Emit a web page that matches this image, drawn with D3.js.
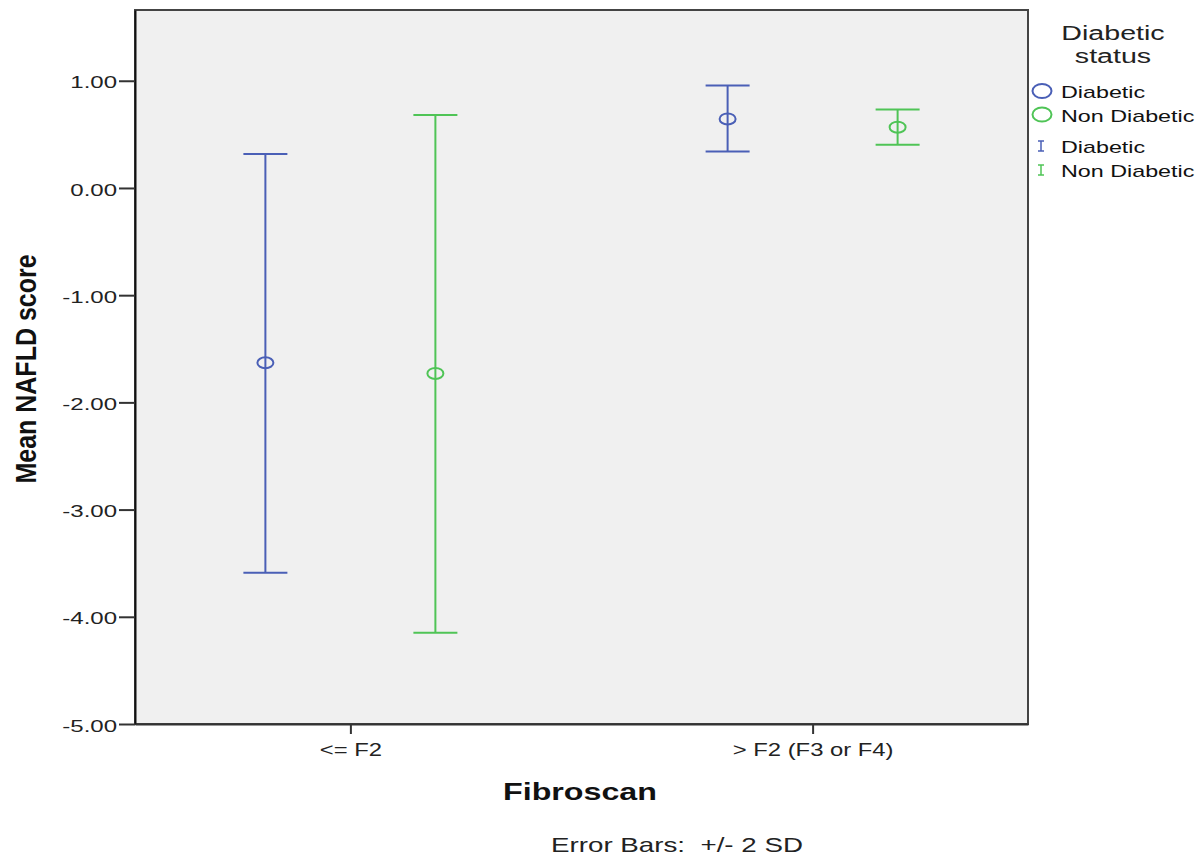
<!DOCTYPE html>
<html><head><meta charset="utf-8">
<script src="https://cdn.jsdelivr.net/npm/d3@7"></script>
<style>body{margin:0;background:#fff;}svg{display:block;font-family:"Liberation Sans",Arial,sans-serif;}</style>
</head><body><svg id="c" width="1200" height="857"></svg>
<script>
const categories = ["<= F2", "> F2 (F3 or F4)"];
const groups = ["Diabetic", "Non Diabetic"];
const means = [[-1.63, -1.73], [0.644, 0.567]];
const upper = [[0.317, 0.68], [0.955, 0.731]];
const lower = [[-3.59, -4.15], [0.339, 0.404]];
const yTicks = [1, 0, -1, -2, -3, -4, -5];
const colors = ["#4a5fb6", "#4fc456"];

// horizontally stretch text to mimic the wide rendering of the original
function stretch(sel, k) {
  sel.each(function () {
    const w = this.getComputedTextLength();
    d3.select(this).attr("textLength", w * k).attr("lengthAdjust", "spacingAndGlyphs");
  });
}

const svg = d3.select("#c");
const L = 135, R = 1028, T = 10, B = 724;
const x = d3.scalePoint().domain(categories).range([L, R]).padding(0.466);
const off = d3.scalePoint().domain(groups).range([-85, 85]);
const y = d3.scaleLinear().domain([-5, 1.66]).range([B, T]);

svg.append("rect").attr("x", L).attr("y", T).attr("width", R - L).attr("height", B - T)
  .attr("fill", "#f0f0f0").attr("stroke", "#444").attr("stroke-width", 2);

const fmt = v => d3.format(".2f")(v).replace("\u2212", "-");
const ya = svg.append("g").attr("transform", `translate(${L},0)`)
  .call(d3.axisLeft(y).tickValues(yTicks).tickFormat(fmt).tickSize(16).tickSizeOuter(0).tickPadding(2));
ya.select(".domain").attr("stroke", "#111").attr("stroke-width", 2);
ya.selectAll(".tick line").attr("stroke", "#333").attr("stroke-width", 2);
ya.selectAll("text").attr("font-size", 16).attr("fill", "#222").attr("dy", "0.45em").call(stretch, 1.5);

const xa = svg.append("g").attr("transform", `translate(0,${B})`)
  .call(d3.axisBottom(x).tickSize(10).tickSizeOuter(0).tickPadding(10));
xa.select(".domain").attr("stroke", "#333").attr("stroke-width", 2);
xa.selectAll(".tick line").attr("stroke", "#333").attr("stroke-width", 2);
xa.selectAll("text").attr("font-size", 17.5).attr("fill", "#222").call(stretch, 1.36);

const data = [];
categories.forEach((c, i) => groups.forEach((g, j) => data.push({c, g, j, m: means[i][j], u: upper[i][j], l: lower[i][j]})));

const gE = svg.append("g");
data.forEach(d => {
  const cx = x(d.c) + off(d.g);
  const col = colors[d.j];
  gE.append("line").attr("x1", cx).attr("x2", cx).attr("y1", y(d.u)).attr("y2", y(d.l)).attr("stroke", col).attr("stroke-width", 2);
  gE.append("line").attr("x1", cx - 22).attr("x2", cx + 22).attr("y1", y(d.u)).attr("y2", y(d.u)).attr("stroke", col).attr("stroke-width", 2);
  gE.append("line").attr("x1", cx - 22).attr("x2", cx + 22).attr("y1", y(d.l)).attr("y2", y(d.l)).attr("stroke", col).attr("stroke-width", 2);
  gE.append("ellipse").attr("cx", cx).attr("cy", y(d.m)).attr("rx", 8).attr("ry", 5.5)
    .attr("fill", "none").attr("stroke", col).attr("stroke-width", 2);
});

svg.append("text").attr("transform", "translate(36,369) scale(1.2,1) rotate(-90)").attr("text-anchor", "middle")
  .attr("font-size", 25).attr("font-weight", "bold").attr("fill", "#111").text("Mean NAFLD score");
svg.append("text").attr("x", 580).attr("y", 800).attr("text-anchor", "middle")
  .attr("font-size", 23).attr("font-weight", "bold").attr("fill", "#111").text("Fibroscan").call(stretch, 1.4);
svg.append("text").attr("x", 677).attr("y", 852).attr("text-anchor", "middle").style("white-space", "pre")
  .attr("font-size", 21).attr("fill", "#222").text("Error Bars:  +/- 2 SD").call(stretch, 1.32);

const lg = svg.append("g");
lg.append("text").attr("x", 1113).attr("y", 40).attr("text-anchor", "middle").attr("font-size", 20).attr("fill", "#222").text("Diabetic").call(stretch, 1.43);
lg.append("text").attr("x", 1113).attr("y", 63).attr("text-anchor", "middle").attr("font-size", 20).attr("fill", "#222").text("status").call(stretch, 1.43);
groups.forEach((g, j) => {
  const yy = 91 + j * 23.5;
  lg.append("ellipse").attr("cx", 1042).attr("cy", yy).attr("rx", 9.5).attr("ry", 7).attr("fill", "none").attr("stroke", colors[j]).attr("stroke-width", 2);
  lg.append("text").attr("x", 1061).attr("y", yy + 7).attr("font-size", 17).attr("fill", "#111").text(g).call(stretch, 1.37);
  const yb = 146 + j * 24;
  lg.append("line").attr("x1", 1041).attr("x2", 1041).attr("y1", yb - 5).attr("y2", yb + 5).attr("stroke", colors[j]).attr("stroke-width", 1.5);
  lg.append("line").attr("x1", 1038).attr("x2", 1044).attr("y1", yb - 5).attr("y2", yb - 5).attr("stroke", colors[j]).attr("stroke-width", 1.5);
  lg.append("line").attr("x1", 1038).attr("x2", 1044).attr("y1", yb + 5).attr("y2", yb + 5).attr("stroke", colors[j]).attr("stroke-width", 1.5);
  lg.append("text").attr("x", 1061).attr("y", yb + 6.5).attr("font-size", 17).attr("fill", "#111").text(g).call(stretch, 1.37);
});
</script></body></html>
